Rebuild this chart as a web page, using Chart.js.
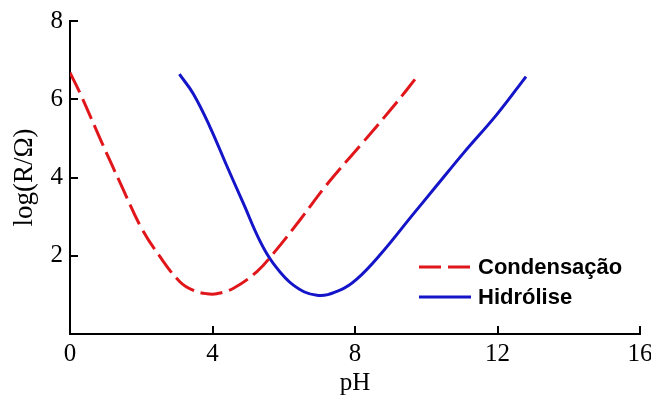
<!DOCTYPE html>
<html>
<head>
<meta charset="utf-8">
<script src="https://cdn.jsdelivr.net/npm/chart.js@4.4.1/dist/chart.umd.min.js"></script>
<style>
  html, body { margin: 0; padding: 0; background: #fff; }
  #wrap { position: relative; width: 651px; height: 398px; }
</style>
</head>
<body>
<div id="wrap"><canvas id="c" width="651" height="398"></canvas></div>
<script>
// ---- data ----
const seriesNames = ['Condensação', 'Hidrólise'];
const condensacaoPH   = [0.0, 0.28, 0.89, 1.45, 2.01, 2.53, 3.09, 3.45, 3.84, 4.12, 4.59, 5.24, 5.71, 6.46, 7.21, 8.15, 9.08, 9.78];
const condensacaoLogR = [6.68, 6.16, 4.90, 3.78, 2.70, 1.97, 1.33, 1.12, 1.03, 1.03, 1.17, 1.59, 2.06, 2.92, 3.82, 4.82, 5.82, 6.62];
const hidrolisePH   = [3.07, 3.46, 3.93, 4.40, 4.87, 5.34, 5.71, 6.27, 6.93, 7.58, 8.05, 8.71, 9.64, 10.30, 11.05, 11.99, 12.80];
const hidroliseLogR = [6.64, 6.14, 5.29, 4.30, 3.33, 2.36, 1.80, 1.25, 0.99, 1.12, 1.40, 2.03, 3.07, 3.80, 4.63, 5.62, 6.58];
const xTicks = [0, 4, 8, 12, 16];
const yTicks = [2, 4, 6, 8];
const xTitle = 'pH';
const yTitle = 'log(R/Ω)';

const RED = '#e0161b';
const BLUE = '#1414c8';
const SERIF = '"Liberation Serif", "Times New Roman", serif';
const SANS = '"Liberation Sans", Arial, sans-serif';

const toPts = (xs, ys) => xs.map((x, i) => ({x: x, y: ys[i]}));

// inward tick marks drawn from the library's scales
const innerTicks = {
  id: 'innerTicks',
  afterDraw(chart) {
    const {ctx, scales: {x, y}, chartArea: a} = chart;
    ctx.save();
    ctx.strokeStyle = '#000';
    ctx.lineWidth = 2;
    ctx.beginPath();
    xTicks.forEach(v => {
      if (v === 0) return;
      const px = Math.round(x.getPixelForValue(v));
      ctx.moveTo(px, a.bottom);
      ctx.lineTo(px, a.bottom - 8);
    });
    yTicks.forEach(v => {
      const py = Math.round(y.getPixelForValue(v));
      ctx.moveTo(a.left, py);
      ctx.lineTo(a.left + 8, py);
    });
    ctx.stroke();
    ctx.restore();
  }
};

// legend drawn inside the plot area
const insideLegend = {
  id: 'insideLegend',
  afterDraw(chart) {
    const {ctx, chartArea: a} = chart;
    const x0 = a.left + 349, x1 = a.left + 401, tx = a.left + 408;
    const rows = [a.top + 246, a.top + 276];
    ctx.save();
    chart.data.datasets.forEach((ds, i) => {
      const yy = rows[i];
      ctx.beginPath();
      ctx.strokeStyle = ds.borderColor;
      ctx.lineWidth = 3;
      ctx.setLineDash(ds.borderDash || []);
      ctx.moveTo(x0, yy);
      ctx.lineTo(x1, yy);
      ctx.stroke();
      ctx.setLineDash([]);
      ctx.fillStyle = '#000';
      ctx.font = 'bold 22px ' + SANS;
      ctx.textBaseline = 'middle';
      ctx.textAlign = 'left';
      ctx.fillText(ds.label, tx, yy + 1);
    });
    ctx.restore();
  }
};

new Chart(document.getElementById('c'), {
  type: 'scatter',
  data: {
    datasets: [
      {
        label: seriesNames[0],
        data: toPts(condensacaoPH, condensacaoLogR),
        showLine: true,
        borderColor: RED,
        backgroundColor: RED,
        borderWidth: 3,
        borderDash: [22, 7],
        pointRadius: 0,
        tension: 0.4,
        fill: false
      },
      {
        label: seriesNames[1],
        data: toPts(hidrolisePH, hidroliseLogR),
        showLine: true,
        borderColor: BLUE,
        backgroundColor: BLUE,
        borderWidth: 3,
        pointRadius: 0,
        tension: 0.4,
        fill: false
      }
    ]
  },
  options: {
    responsive: false,
    animation: false,
    events: [],
    layout: { padding: { top: 21, right: 11, left: 0, bottom: 0 } },
    plugins: {
      legend: { display: false },
      tooltip: { enabled: false }
    },
    scales: {
      x: {
        type: 'linear',
        min: 0, max: 16,
        afterBuildTicks: s => { s.ticks = xTicks.map(v => ({value: v})); },
        afterFit: s => { s.height = 64; s.paddingLeft = 0; s.paddingRight = 0; },
        grid: { display: false, drawTicks: false },
        border: { display: true, color: '#000', width: 2 },
        ticks: { color: '#000', font: { family: SERIF, size: 25 }, padding: 5, maxRotation: 0 },
        title: { display: true, text: xTitle, color: '#000', font: { family: SERIF, size: 25 }, padding: { top: 0, bottom: 0 } }
      },
      y: {
        type: 'linear',
        min: 0, max: 8,
        afterBuildTicks: s => { s.ticks = yTicks.map(v => ({value: v})); },
        afterFit: s => { s.width = 70; s.paddingTop = 0; s.paddingBottom = 0; },
        grid: { display: false, drawTicks: false },
        border: { display: true, color: '#000', width: 2 },
        ticks: { color: '#000', font: { family: SERIF, size: 25 }, padding: 7 },
        title: { display: true, text: yTitle, color: '#000', font: { family: SERIF, size: 27 }, padding: { top: 9, bottom: 0 } }
      }
    }
  },
  plugins: [innerTicks, insideLegend]
});
</script>
</body>
</html>
